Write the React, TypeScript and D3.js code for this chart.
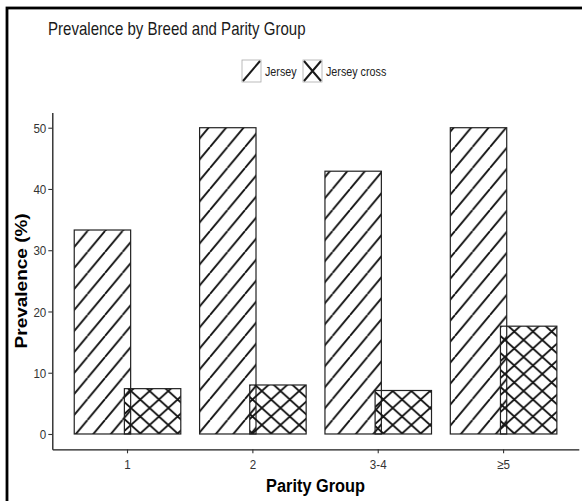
import { useEffect, useRef } from "react";
import * as d3 from "d3";

const categories = ["1", "2", "3-4", "≥5"];
const seriesNames = ["Jersey", "Jersey cross"];
const jerseyValues = [33.3, 50.0, 42.9, 50.0];
const jerseyCrossValues = [7.4, 8.0, 7.1, 17.6];
const yTicks = [0, 10, 20, 30, 40, 50];

const FONT = "'Liberation Sans', Arial, sans-serif";
const SQUISH = 0.86;

export default function App() {
  const svgRef = useRef<SVGSVGElement | null>(null);

  useEffect(() => {
    const svgElement = svgRef.current;
    if (!svgElement) return;

    const width = 582;
    const height = 501;
    const panel = { left: 52.3, right: 578.8, top: 112.4, bottom: 449.3 };

    const x = d3
      .scaleBand()
      .domain(categories)
      .range([panel.left, panel.right])
      .paddingInner(0)
      .paddingOuter(0.1);
    const step = x.step();
    // geom_bar(width = 0.9) with position_dodge(0.8): bars overlap a little
    const dodge = d3.scaleLinear().domain([0, 1]).range([-0.2 * step, 0.2 * step]);
    const barWidth = 0.45 * step;
    const y = d3.scaleLinear().domain([-2.5, 52.5]).range([panel.bottom, panel.top]);

    const svg = d3.select(svgElement);
    svg.selectAll("*").remove();
    svg.attr("viewBox", `0 0 ${width} ${height}`);

    const defs = svg.append("defs");
    const sw = 17.5;
    const sh = 21;
    defs
      .append("pattern")
      .attr("id", "stripe")
      .attr("patternUnits", "userSpaceOnUse")
      .attr("width", sw)
      .attr("height", sh)
      .append("path")
      .attr("d", `M0,${sh}L${sw},0M${-sw},${sh}L0,0M${sw},${sh}L${2 * sw},0`)
      .attr("stroke", "#151515")
      .attr("stroke-width", 1.9)
      .attr("fill", "none");

    const cw = 18.7;
    const ch = 17;
    defs
      .append("pattern")
      .attr("id", "cross")
      .attr("patternUnits", "userSpaceOnUse")
      .attr("width", cw)
      .attr("height", ch)
      .append("path")
      .attr(
        "d",
        `M0,${ch}L${cw},0M${-cw},${ch}L0,0M${cw},${ch}L${2 * cw},0` +
          `M0,0L${cw},${ch}M${-cw},0L0,${ch}M${cw},0L${2 * cw},${ch}`
      )
      .attr("stroke", "#151515")
      .attr("stroke-width", 1.9)
      .attr("fill", "none");

    svg.append("rect").attr("width", width).attr("height", height).attr("fill", "#fff");

    // frame (cropped figure: only left and top edges show)
    svg
      .append("rect")
      .attr("x", 7)
      .attr("y", 8)
      .attr("width", 700)
      .attr("height", 700)
      .attr("fill", "none")
      .attr("stroke", "#000")
      .attr("stroke-width", 2.8);

    const seriesData = [jerseyValues, jerseyCrossValues];
    const patterns = ["url(#stripe)", "url(#cross)"];

    seriesData.forEach((values, si) => {
      const bars = svg
        .append("g")
        .selectAll("g")
        .data(categories.map((c, i) => ({ c, v: values[i] })))
        .join("g");
      const bx = (d: { c: string }) => (x(d.c) ?? 0) + step / 2 + dodge(si) - barWidth / 2;
      if (si === 0) {
        bars
          .append("rect")
          .attr("x", bx)
          .attr("y", (d) => y(d.v))
          .attr("width", barWidth)
          .attr("height", (d) => y(0) - y(d.v))
          .attr("fill", "#fff");
      }
      bars
        .append("rect")
        .attr("x", bx)
        .attr("y", (d) => y(d.v))
        .attr("width", barWidth)
        .attr("height", (d) => y(0) - y(d.v))
        .attr("fill", patterns[si])
        .attr("stroke", "#222")
        .attr("stroke-width", 1.2);
    });

    const yAxis = svg
      .append("g")
      .attr("transform", `translate(${panel.left},0)`)
      .call(d3.axisLeft(y).tickValues(yTicks).tickSize(4).tickSizeOuter(0));
    yAxis.select(".domain").attr("stroke", "#1a1a1a").attr("stroke-width", 1.3);
    yAxis.selectAll("line").attr("stroke", "#333").attr("stroke-width", 1.1);
    yAxis
      .selectAll("text")
      .attr("x", 0)
      .attr("dy", "0.35em")
      .attr("transform", `translate(-6,0) scale(${SQUISH},1)`)
      .attr("font-family", FONT)
      .attr("font-size", 13.5)
      .attr("fill", "#333");

    const xAxis = svg
      .append("g")
      .attr("transform", `translate(0,${panel.bottom})`)
      .call(d3.axisBottom(x).tickSize(4).tickSizeOuter(0));
    xAxis.select(".domain").attr("stroke", "#1a1a1a").attr("stroke-width", 1.3);
    xAxis.selectAll("line").attr("stroke", "#333").attr("stroke-width", 1.1);
    xAxis
      .selectAll("text")
      .attr("y", 0)
      .attr("dy", 0)
      .attr("transform", `translate(0,20) scale(${SQUISH},1)`)
      .attr("font-family", FONT)
      .attr("font-size", 13.5)
      .attr("fill", "#333");

    svg
      .append("text")
      .attr("transform", `translate(48,35) scale(${SQUISH},1)`)
      .attr("font-family", FONT)
      .attr("font-size", 17.5)
      .attr("fill", "#1a1a1a")
      .text("Prevalence by Breed and Parity Group");

    svg
      .append("text")
      .attr("transform", `translate(${(panel.left + panel.right) / 2},491.5) scale(${SQUISH},1)`)
      .attr("text-anchor", "middle")
      .attr("font-family", FONT)
      .attr("font-size", 19)
      .attr("font-weight", 700)
      .attr("fill", "#000")
      .text("Parity Group");

    svg
      .append("text")
      .attr(
        "transform",
        `translate(26.5,${(panel.top + panel.bottom) / 2}) scale(${SQUISH},1) rotate(-90)`
      )
      .attr("text-anchor", "middle")
      .attr("font-family", FONT)
      .attr("font-size", 19)
      .attr("font-weight", 700)
      .attr("fill", "#000")
      .text("Prevalence (%)");

    // legend
    const keyW = 19;
    const keyH = 22;
    const ky = 60;
    const legendItems = [
      {
        name: seriesNames[0],
        kx: 242,
        tx: 265,
        path: (x0: number, y0: number) => `M${x0},${y0 + keyH - 2}L${x0 + keyW - 2},${y0}`,
      },
      {
        name: seriesNames[1],
        kx: 303,
        tx: 326,
        path: (x0: number, y0: number) =>
          `M${x0},${y0 + keyH - 2}L${x0 + keyW - 2},${y0}M${x0},${y0}L${x0 + keyW - 2},${y0 + keyH - 2}`,
      },
    ];
    const legend = svg.append("g");
    legendItems.forEach((item) => {
      legend
        .append("rect")
        .attr("x", item.kx)
        .attr("y", ky)
        .attr("width", keyW)
        .attr("height", keyH)
        .attr("fill", "#fff")
        .attr("stroke", "#aaa")
        .attr("stroke-width", 0.8);
      legend
        .append("path")
        .attr("d", item.path(item.kx + 1, ky + 1))
        .attr("stroke", "#1a1a1a")
        .attr("stroke-width", 2)
        .attr("fill", "none");
      legend
        .append("text")
        .attr("transform", `translate(${item.tx},76) scale(${SQUISH},1)`)
        .attr("font-family", FONT)
        .attr("font-size", 12.5)
        .attr("fill", "#222")
        .text(item.name);
    });
  }, []);

  return (
    <svg
      ref={svgRef}
      width={582}
      height={501}
      style={{ position: "absolute", left: 0, top: 0, display: "block" }}
      role="img"
      aria-label="Prevalence by breed and parity group"
    />
  );
}
